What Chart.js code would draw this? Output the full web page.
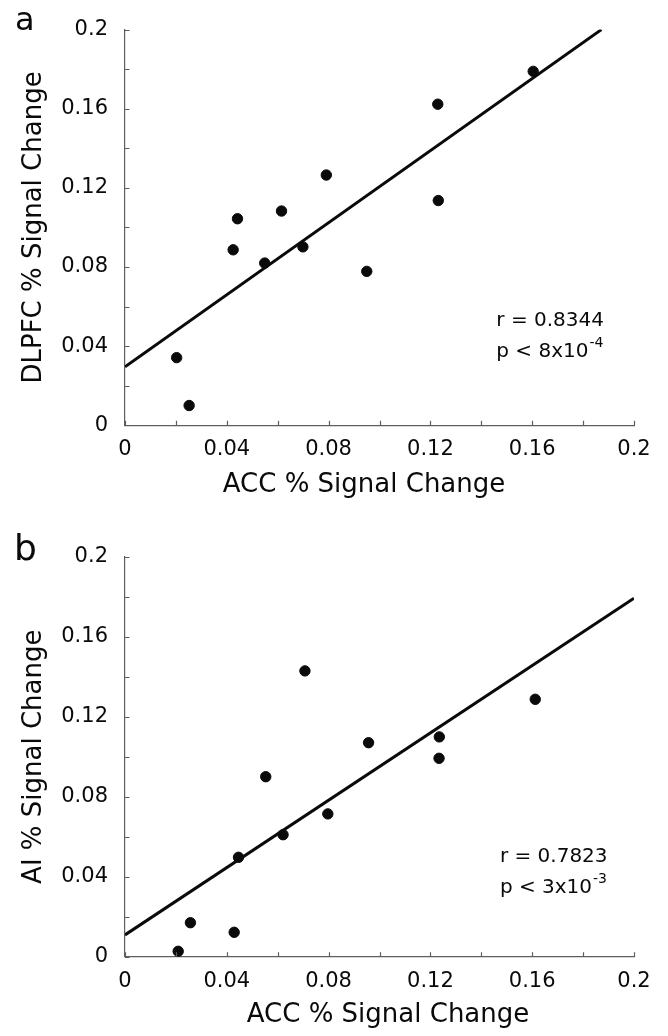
<!DOCTYPE html>
<html>
<head>
<meta charset="utf-8">
<script src="https://cdn.jsdelivr.net/npm/chart.js@4"></script>
<style>
  html, body { margin: 0; padding: 0; background: #fff; }
  body { width: 668px; height: 1036px; position: relative; overflow: hidden; }
  canvas { position: absolute; left: 0; }
  #chartA { top: 0; }
  #chartB { top: 510px; }
</style>
</head>
<body>
<canvas id="chartA" width="668" height="510"></canvas>
<canvas id="chartB" width="668" height="526"></canvas>
<script>
// panel a: ACC vs DLPFC
const accA = [0.0203, 0.0252, 0.0425, 0.0442, 0.0549, 0.0615, 0.0699, 0.0791, 0.0950, 0.1229, 0.1231, 0.1604];
const dlpfc = [0.0342, 0.0100, 0.0887, 0.1044, 0.0820, 0.1083, 0.0902, 0.1265, 0.0778, 0.1623, 0.1136, 0.1789];
const fitAx = [0, 0.1872];
const fitAy = [0.0296, 0.2];

// panel b: ACC vs AI
const accB = [0.0209, 0.0257, 0.0429, 0.0446, 0.0553, 0.0621, 0.0707, 0.0797, 0.0957, 0.1234, 0.1235, 0.1612];
const ai = [0.0027, 0.0170, 0.0122, 0.0497, 0.0900, 0.0610, 0.1429, 0.0714, 0.1070, 0.0992, 0.1099, 0.1287];
const fitBx = [0, 0.2];
const fitBy = [0.0109, 0.1792];

const tickValues = [0, 0.02, 0.04, 0.06, 0.08, 0.1, 0.12, 0.14, 0.16, 0.18, 0.2];
const tickLabels = ['0', '0.04', '0.08', '0.12', '0.16', '0.2'];

const FONT = '"DejaVu Sans", sans-serif';
const INK = '#0a0a0a';
const AXIS = '#5e5e5e';

function pts(xs, ys) {
    return xs.map((x, i) => ({ x: x, y: ys[i] }));
}

function tickText(value) {
    const k = Math.round(value * 100);
    if (k % 4 !== 0) return '';
    return tickLabels[k / 4];
}

// inside tick marks, panel letter, axis titles and r/p text
const decor = {
    id: 'decor',
    afterDraw(chart, args, o) {
        const ctx = chart.ctx;
        const xs = chart.scales.x, ys = chart.scales.y;
        const area = chart.chartArea;
        ctx.save();
        ctx.strokeStyle = AXIS;
        ctx.lineWidth = 1.2;
        ctx.beginPath();
        tickValues.forEach(v => {
            const px = Math.round(xs.getPixelForValue(v)) + 0.5;
            ctx.moveTo(px, area.bottom);
            ctx.lineTo(px, area.bottom - 4.5);
            const py = Math.round(ys.getPixelForValue(v)) + 0.5;
            ctx.moveTo(area.left, py);
            ctx.lineTo(area.left + 4.5, py);
        });
        ctx.stroke();

        ctx.fillStyle = INK;
        ctx.textBaseline = 'alphabetic';

        ctx.font = o.letterSize + 'px ' + FONT;
        ctx.textAlign = 'left';
        ctx.fillText(o.letter, o.letterX, o.letterY);

        ctx.font = '26px ' + FONT;
        ctx.textAlign = 'center';
        ctx.fillText(o.xTitle, o.xTitleX, o.xTitleY);

        ctx.save();
        ctx.translate(40.5, (area.top + area.bottom) / 2);
        ctx.rotate(-Math.PI / 2);
        ctx.fillText(o.yTitle, 0, 0);
        ctx.restore();

        const ax = xs.getPixelForValue(o.noteX);
        ctx.textAlign = 'left';
        ctx.font = '20px ' + FONT;
        ctx.fillText(o.rText, ax, ys.getPixelForValue(o.noteY1));
        const y2 = ys.getPixelForValue(o.noteY2);
        ctx.fillText(o.pText, ax, y2);
        const w = ctx.measureText(o.pText).width;
        ctx.font = '14px ' + FONT;
        ctx.fillText(o.pExp, ax + w + 1, y2 - 10);
        ctx.restore();
    }
};

function makeChart(id, xs, ys, fx, fy, padTop, xAxisH, note) {
    return new Chart(document.getElementById(id), {
        type: 'scatter',
        data: {
            datasets: [{
                data: pts(xs, ys),
                backgroundColor: INK,
                borderColor: INK,
                pointRadius: 5.2,
                pointHoverRadius: 5.2
            }, {
                data: pts(fx, fy),
                showLine: true,
                borderColor: INK,
                borderWidth: 3,
                pointRadius: 0,
                fill: false
            }]
        },
        options: {
            responsive: false,
            devicePixelRatio: 1,
            animation: false,
            events: [],
            layout: { padding: { top: padTop, right: 34, bottom: 0, left: 0 } },
            plugins: {
                legend: { display: false },
                tooltip: { enabled: false },
                decor: note
            },
            scales: {
                x: {
                    type: 'linear',
                    min: 0, max: 0.2,
                    afterFit(s) { s.height = xAxisH; },
                    grid: { drawOnChartArea: false, drawTicks: false },
                    border: { display: true, color: AXIS, width: 1.2 },
                    ticks: {
                        stepSize: 0.02,
                        autoSkip: false,
                        maxRotation: 0,
                        padding: 12,
                        color: INK,
                        font: { family: FONT, size: 21 },
                        callback: tickText
                    }
                },
                y: {
                    type: 'linear',
                    min: 0, max: 0.2,
                    afterFit(s) { s.width = 125; },
                    grid: { drawOnChartArea: false, drawTicks: false },
                    border: { display: true, color: AXIS, width: 1.2 },
                    ticks: {
                        stepSize: 0.02,
                        autoSkip: false,
                        padding: 17,
                        color: INK,
                        font: { family: FONT, size: 21 },
                        callback: tickText
                    }
                }
            }
        },
        plugins: [decor]
    });
}

makeChart('chartA', accA, dlpfc, fitAx, fitAy, 24.5, 84.7, {
    letter: 'a', letterSize: 32, letterX: 15, letterY: 30,
    xTitle: 'ACC % Signal Change', xTitleX: 364, xTitleY: 492,
    yTitle: 'DLPFC % Signal Change',
    noteX: 0.1459, noteY1: 0.050, noteY2: 0.0343,
    rText: 'r = 0.8344', pText: 'p < 8x10', pExp: '-4'
});

makeChart('chartB', accB, ai, fitBx, fitBy, 46.7, 79.3, {
    letter: 'b', letterSize: 36, letterX: 14, letterY: 50,
    xTitle: 'ACC % Signal Change', xTitleX: 388, xTitleY: 512,
    yTitle: 'AI % Signal Change',
    noteX: 0.1473, noteY1: 0.0475, noteY2: 0.0317,
    rText: 'r = 0.7823', pText: 'p < 3x10', pExp: '-3'
});
</script>
</body>
</html>
